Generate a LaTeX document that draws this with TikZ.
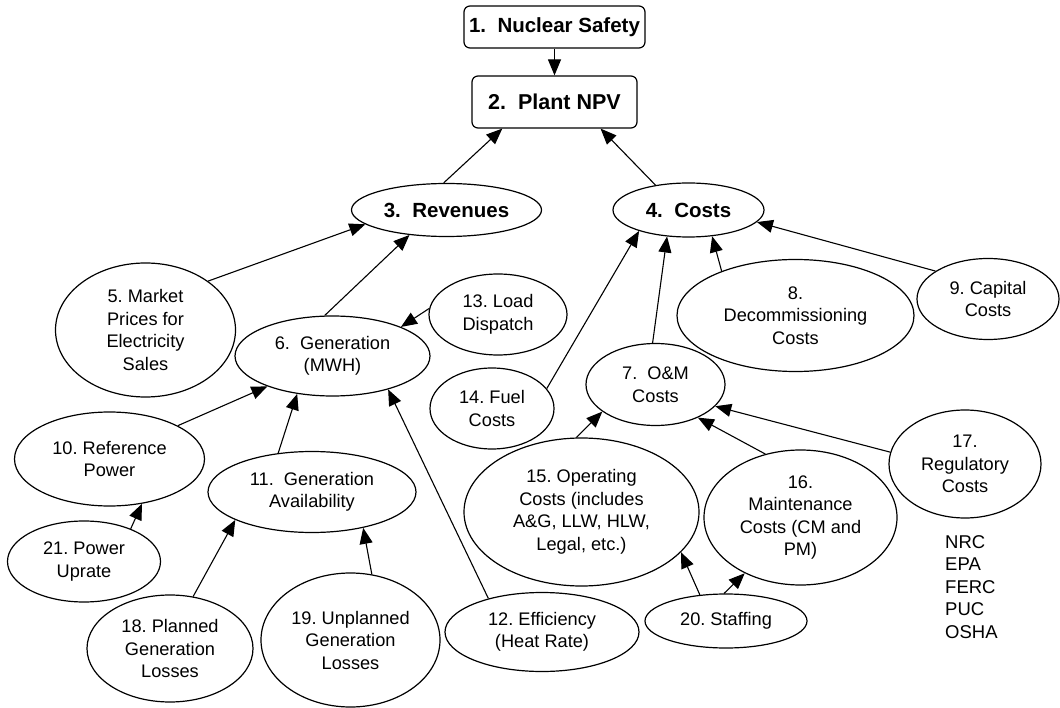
\documentclass[tikz,border=0pt]{standalone}
\usepackage{fontspec}
\setmainfont{Liberation Sans}
\usetikzlibrary{shapes.geometric,arrows.meta}
\frenchspacing

\begin{document}
\begin{tikzpicture}[x=1pt,y=1pt,
  every node/.style={inner sep=0pt},
  dims/.style 2 args={minimum width=#1, minimum height=#2},
  oval/.style={ellipse, draw, line width=1.2pt, align=center,
    font=\fontsize{18.2}{22.5}\selectfont},
  boldoval/.style={oval, font=\fontsize{20.5}{24}\selectfont\bfseries},
  titlebox/.style={rectangle, draw, rounded corners=6pt, line width=1.2pt,
    align=center, font=\fontsize{20.5}{24}\selectfont\bfseries},
  link/.style={line width=1.1pt, -{Triangle[length=16pt,width=13pt]}}
]
\useasboundingbox (0,0) rectangle (1060,-708);

% top of the hierarchy
\node[titlebox, dims={181pt}{42pt}] (n1) at (554.5,-27) {1.\ \ Nuclear Safety};
\node[titlebox, dims={165pt}{52pt}, font=\fontsize{21.5}{24}\selectfont\bfseries] (n2) at (554.5,-102) {2.\ \ Plant NPV};
\node[boldoval, dims={190pt}{53pt}] (n3) at (446.5,-210) {3.\ \ Revenues};
\node[boldoval, dims={151pt}{54pt}] (n4) at (688.5,-210) {4.\ \ Costs};

% revenue side
\node[oval, dims={180pt}{134pt}] (n5) at (145.5,-330) {5. Market\\Prices for\\Electricity\\Sales};
\node[oval, dims={195pt}{80pt}] (n6) at (332.5,-356) {6.\ \ Generation\\(MWH)};
\node[oval, dims={190pt}{94pt}] (n10) at (109.5,-459) {10. Reference\\Power};
\node[oval, dims={208pt}{81pt}] (n11) at (312,-492) {11.\ \ Generation\\Availability};
\node[oval, dims={194pt}{79pt}] (n12) at (542,-632) {12. Efficiency\\(Heat Rate)};
\node[oval, dims={138pt}{81pt}] (n13) at (498,-314.5) {13. Load\\Dispatch};
\node[oval, dims={166pt}{107pt}] (n18) at (170,-648.5) {18. Planned\\Generation\\Losses};
\node[oval, dims={179pt}{134pt}] (n19) at (350.5,-640) {19. Unplanned\\Generation\\Losses};
\node[oval, dims={153pt}{81pt}] (n21) at (84,-561.5) {21. Power\\Uprate};

% cost side
\node[oval, dims={139pt}{82pt}] (n7) at (655.5,-384.5) {7.\ \ O\&M\\Costs};
\node[oval, dims={237pt}{112pt}] (n8) at (795.5,-315.5) {8.\\Decommissioning\\Costs};
\node[oval, dims={142pt}{81pt}] (n9) at (988,-299) {9. Capital\\Costs};
\node[oval, dims={124pt}{81pt}] (n14) at (492,-408.5) {14. Fuel\\Costs};
\node[oval, dims={235pt}{148pt}] (n15) at (581.5,-512) {15. Operating\\Costs (includes\\A\&G, LLW, HLW,\\Legal, etc.)};
\node[oval, dims={193pt}{135pt}] (n16) at (800.5,-517.5) {16.\\Maintenance\\Costs (CM and\\PM)};
\node[oval, dims={152pt}{108pt}] (n17) at (965,-464) {17.\\Regulatory\\Costs};
\node[oval, dims={162pt}{54pt}] (n20) at (726,-621) {20. Staffing};

% regulators listed under node 17
\node[anchor=north west, align=left, font=\fontsize{18.5}{22.5}\selectfont] (regs) at (945,-535) {NRC\\EPA\\FERC\\PUC\\OSHA};

% influence arrows
\draw[link] (n1.south) -- (n2.north);
\draw[link] (n3.96) -- (n2.207);
\draw[link] (n4.143) -- (n2.-30);
\draw[link] (n5.38) -- (n3.190);
\draw[link] (n6.101) -- (n3.214);
\draw[link] (n13.175) -- (n6.23);
\draw[link] (n10.26) -- (n6.205);
\draw[link] (n11.131) -- (n6.227);
\draw[link] (n12.148) -- (n6.-31);
\draw[link] (n7.94) -- (n4.231);
\draw[link] (n14.20) -- (n4.203);
\draw[link] (n8.149) -- (n4.-48);
\draw[link] (n9.152) -- (n4.-10);
\draw[link] (n21.35) -- (n10.-54);
\draw[link] (n18.66) -- (n11.200);
\draw[link] (n19.72) -- (n11.-35);
\draw[link] (n15.94) -- (n7.207);
\draw[link] (n16.119) -- (n7.-38);
\draw[link] (n17.171) -- (n7.-20.5);
\draw[link] (n20.135) -- (n15.-22);
\draw[link] (n20.94) -- (n16.225.5);
\end{tikzpicture}
\end{document}
